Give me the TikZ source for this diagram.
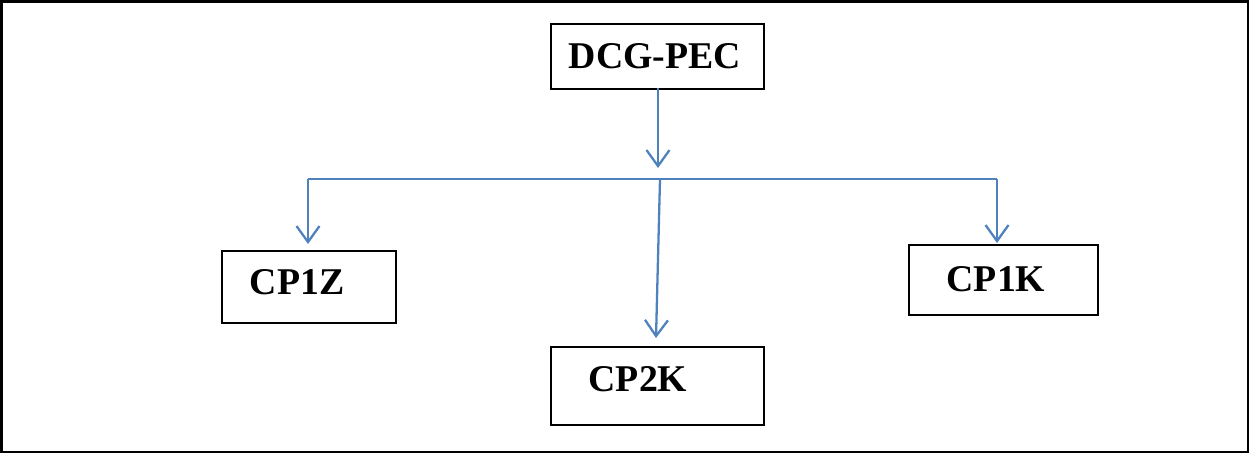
\documentclass[tikz,border=0pt]{standalone}
\usepackage{fontspec}
\setmainfont{Liberation Serif}
\usetikzlibrary{arrows.meta}
\begin{document}
\begin{tikzpicture}[x=0.02cm,y=-0.02cm,
  box/.style={draw=black,line width=1pt,inner sep=0pt,anchor=north west},
  lbl/.style={font=\fontsize{21.5}{25}\selectfont\bfseries,inner sep=0pt},
  conn/.style={draw={rgb,255:red,79;green,129;blue,189},line width=1.3pt},
  arr/.style={conn,-{Straight Barb[length=0.32cm,width=0.46cm,line width=1.3pt]}}]
\useasboundingbox (0,0) rectangle (1250,454);
\draw[line width=1.3pt] (1.5,1.5) rectangle (1248,452);
% boxes
\node[box,minimum width=4.26cm,minimum height=1.3cm] (dcg) at (550,23) {};
\node[box,minimum width=3.48cm,minimum height=1.44cm] (cp1z) at (221,250) {};
\node[box,minimum width=4.26cm,minimum height=1.56cm] (cp2k) at (550,346) {};
\node[box,minimum width=3.78cm,minimum height=1.4cm] (cp1k) at (908,244) {};
% labels
\node[lbl] (tdcg) at (655,56) {DCG-PEC};
\node[lbl] (tcp1z) at (297,282) {CP1Z};
\node[lbl] (tcp2k) at (638,379) {CP2K};
\node[lbl] (tcp1k) at (996,279) {CP1K};
% connectors
\coordinate (s) at (658,88);
\coordinate (stip) at (658,168);
\coordinate (hl) at (308,179);
\coordinate (hr) at (997,179);
\coordinate (hm) at (660,179);
\coordinate (ltip) at (308,244);
\coordinate (rtip) at (997,243);
\coordinate (mtip) at (656,338);
\draw[arr] (s) -- (stip);
\draw[conn] (hl) -- (hr);
\draw[arr] (hl) -- (ltip);
\draw[arr] (hr) -- (rtip);
\draw[arr] (hm) -- (mtip);
\end{tikzpicture}
\end{document}
